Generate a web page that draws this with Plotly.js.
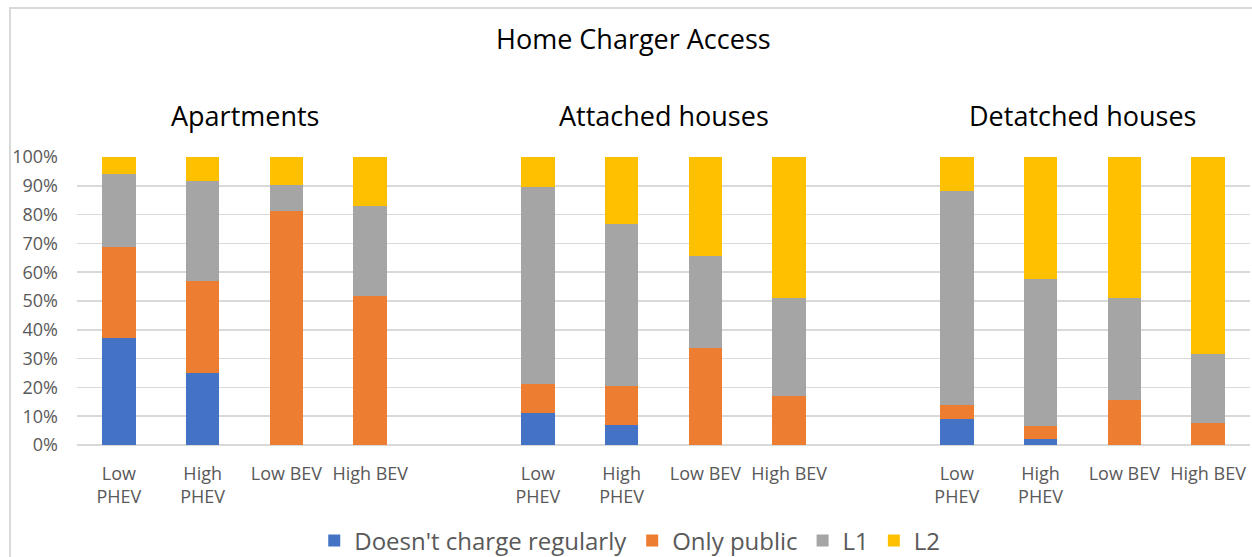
<!DOCTYPE html>
<html>
<head>
<meta charset="utf-8">
<script src="https://cdn.plot.ly/plotly-3.0.1.min.js"></script>
<style>
html,body{margin:0;padding:0;background:#fff;}
#frame{position:absolute;left:9px;top:7px;width:1243px;height:550px;border-left:2px solid #d9d9d9;border-top:2px solid #d9d9d9;box-sizing:border-box;pointer-events:none;z-index:5;}
#chart{position:absolute;left:0;top:0;width:1252px;height:557px;}
</style>
</head>
<body>
<div id="chart"></div>
<div id="frame"></div>
<script>
const categories = ["Low<br>PHEV", "High<br>PHEV", "Low BEV", "High BEV"];
const groups = ["Apartments", "Attached houses", "Detatched houses"];
const seriesNames = ["Doesn't charge regularly", "Only public", "L1", "L2"];
const seriesColors = ["#4472c4", "#ed7d31", "#a5a5a5", "#ffc000"];
// values in %, order: Apartments(4), Attached(4), Detached(4)
const doesntCharge = [37.2, 24.9, 0, 0, 11.2, 6.9, 0, 0, 9.0, 2.2, 0, 0];
const onlyPublic   = [31.4, 31.9, 81.1, 51.9, 10.0, 13.6, 33.6, 16.9, 4.9, 4.5, 15.7, 7.6];
const L1           = [25.4, 34.8, 9.2, 31.0, 68.4, 56.1, 32.0, 34.0, 74.3, 50.9, 35.2, 24.1];
const L2           = [6.0, 8.4, 9.7, 17.1, 10.4, 23.4, 34.4, 49.1, 11.8, 42.4, 49.1, 68.3];

const slotsPerGroup = categories.length + 1;
const xs = [], ticktext = [];
groups.forEach((g, gi) => categories.forEach((c, ci) => { xs.push(gi * slotsPerGroup + ci); ticktext.push(c); }));

const allSeries = [doesntCharge, onlyPublic, L1, L2];
const traces = allSeries.map((vals, si) => ({
  type: 'bar',
  x: xs,
  y: vals.map(v => v / 100),
  name: seriesNames[si],
  marker: {color: seriesColors[si]},
  width: 0.4,
  hoverinfo: 'skip'
}));

const FONT = "'Open Sans', sans-serif";
const plotTop = 157, plotBottom = 445, plotH = plotBottom - plotTop;
const py = px => (plotBottom - px) / plotH;
const annotations = [{
  text: "Home Charger Access", xref: 'paper', yref: 'paper',
  x: 0.474, y: py(39), xanchor: 'center', yanchor: 'middle', showarrow: false,
  font: {family: FONT, size: 27, color: '#000'}
}];
groups.forEach((g, gi) => annotations.push({
  text: g, xref: 'x', yref: 'paper',
  x: gi * slotsPerGroup + (categories.length - 1) / 2, y: py(116),
  xanchor: 'center', yanchor: 'middle', showarrow: false,
  font: {family: FONT, size: 27, color: '#000'}
}));

const layout = {
  width: 1252, height: 557,
  margin: {l: 77, r: 2, t: plotTop, b: 557 - plotBottom},
  paper_bgcolor: '#fff', plot_bgcolor: '#fff',
  barmode: 'stack',
  font: {family: FONT, color: '#595959', size: 18},
  showlegend: true,
  legend: {
    orientation: 'h', traceorder: 'normal', xref: 'container', yref: 'container',
    x: 0.503, xanchor: 'center', y: 1 - 541/557, yanchor: 'middle',
    font: {family: FONT, size: 24, color: '#595959'},
    itemwidth: 30
  },
  xaxis: {
    range: [-0.5, groups.length * slotsPerGroup - 1 - 0.5],
    tickmode: 'array', tickvals: xs, ticktext: ticktext,
    showgrid: false, zeroline: false, showline: false, ticks: '',
    tickfont: {family: FONT, size: 18, color: '#595959'},
    tickangle: 0, ticklabelstandoff: 16
  },
  yaxis: {
    range: [0, 1], tickmode: 'linear', tick0: 0, dtick: 0.1, tickformat: '.0%',
    showgrid: true, gridcolor: '#d9d9d9', gridwidth: 1.5,
    zeroline: true, zerolinecolor: '#d9d9d9', zerolinewidth: 1.5,
    showline: false, ticks: '', ticklabelstandoff: 18,
    tickfont: {family: FONT, size: 18, color: '#595959'}
  },
  annotations: annotations
};
Plotly.newPlot('chart', traces, layout, {displayModeBar: false, staticPlot: true});
</script>
</body>
</html>
